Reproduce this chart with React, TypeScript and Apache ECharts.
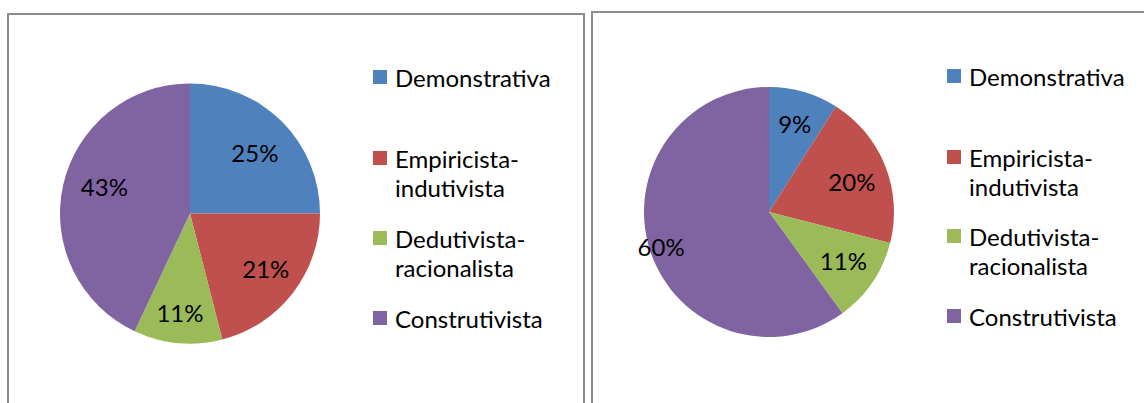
import React, { useEffect, useRef } from 'react';
import * as echarts from 'echarts';

const categories = ['Demonstrativa', 'Empiricista-indutivista', 'Dedutivista-racionalista', 'Construtivista'];
const leftValues = [25, 21, 11, 43];
const rightValues = [9, 20, 11, 60];
const colors = ['#4F81BD', '#C0504D', '#9BBB59', '#8064A2'];

const FONT = 'Lato';
const FONT_SIZE = 24;
const LINE_H = 29;

// per-slice label nudges [dx, dy] in px (style only)
const leftLabelShift = [[-3, 7], [0, -4], [-1, 3], [8, -6]];
const rightLabelShift = [[0, 0], [-3, 4], [-2, -3], [-20, 6]];

function labelNudge(shift: number[]) {
  const [dx, dy] = shift;
  if (!dx && !dy) return undefined;
  const lab: any = { padding: [0, dx < 0 ? -2 * dx : 0, 0, dx > 0 ? 2 * dx : 0] };
  if (dy) {
    lab.lineHeight = 2 * Math.abs(dy);
    lab.formatter = dy > 0 ? (p: any) => '\n' + p.value + '%' : (p: any) => p.value + '%\n';
  }
  return lab;
}

function pieSeries(values: number[], center: number[], radius: number, shifts: number[][]) {
  const main = {
    type: 'pie',
    center,
    radius,
    startAngle: 90,
    clockwise: true,
    silent: true,
    label: { show: false },
    labelLine: { show: false },
    emphasis: { disabled: true },
    data: categories.map((name, i) => ({
      name,
      value: values[i],
      itemStyle: { color: colors[i] },
    })),
  };
  const labels = {
    type: 'pie',
    center,
    radius: [radius * 0.43, radius],
    startAngle: 90,
    clockwise: true,
    silent: true,
    z: 5,
    emphasis: { disabled: true },
    itemStyle: { color: 'rgba(0,0,0,0)', borderWidth: 0 },
    labelLine: { show: false },
    label: {
      show: true,
      position: 'inside',
      formatter: (p: any) => p.value + '%',
      fontFamily: FONT,
      fontSize: FONT_SIZE,
      color: '#000',
    },
    data: categories.map((name, i) => {
      const d: any = { name, value: values[i], itemStyle: { color: 'rgba(0,0,0,0)' } };
      const lab = labelNudge(shifts[i]);
      if (lab) d.label = lab;
      return d;
    }),
  };
  return [main, labels];
}

function legendItem(name: string, left: number, centerY: number) {
  const twoLine = name.indexOf('-') >= 0;
  return {
    data: [name],
    left,
    top: centerY - (twoLine ? LINE_H * 1.5 : LINE_H / 2),
    orient: 'vertical',
    padding: 0,
    itemWidth: 14,
    itemHeight: 14,
    itemGap: 0,
    icon: 'rect',
    selectedMode: false,
    // a leading empty line keeps the marker level with the first text line
    formatter: (n: string) => (n.indexOf('-') >= 0 ? '\n' + n.replace('-', '-\n') : n),
    textStyle: { fontFamily: FONT, fontSize: FONT_SIZE, lineHeight: LINE_H, color: '#000', padding: [0, 0, 0, 3] },
  };
}

const leftLegendY = [77, 158, 238, 318];
const rightLegendY = [76, 157, 236, 316];

export default function App() {
  const ref = useRef<HTMLDivElement>(null);
  useEffect(() => {
    if (!ref.current) return;
    const chart = echarts.init(ref.current, undefined, { renderer: 'svg' });
    chart.setOption({
      animation: false,
      backgroundColor: '#fff',
      graphic: [
        {
          type: 'rect',
          shape: { x: 8, y: 14, width: 576, height: 430 },
          style: { fill: 'none', stroke: '#8c8c8c', lineWidth: 2 },
          z: -1,
        },
        {
          type: 'rect',
          shape: { x: 592, y: 12, width: 600, height: 430 },
          style: { fill: 'none', stroke: '#8c8c8c', lineWidth: 2 },
          z: -1,
        },
      ],
      legend: [
        ...categories.map((c, i) => legendItem(c, 373, leftLegendY[i])),
        ...categories.map((c, i) => legendItem(c, 947, rightLegendY[i])),
      ],
      series: [
        ...pieSeries(leftValues, [190, 213.5], 130, leftLabelShift),
        ...pieSeries(rightValues, [769, 212], 125, rightLabelShift),
      ],
    });
    return () => chart.dispose();
  }, []);
  return (
    <div
      ref={ref}
      style={{ position: 'absolute', left: 0, top: 0, width: 1144, height: 403 }}
    />
  );
}
